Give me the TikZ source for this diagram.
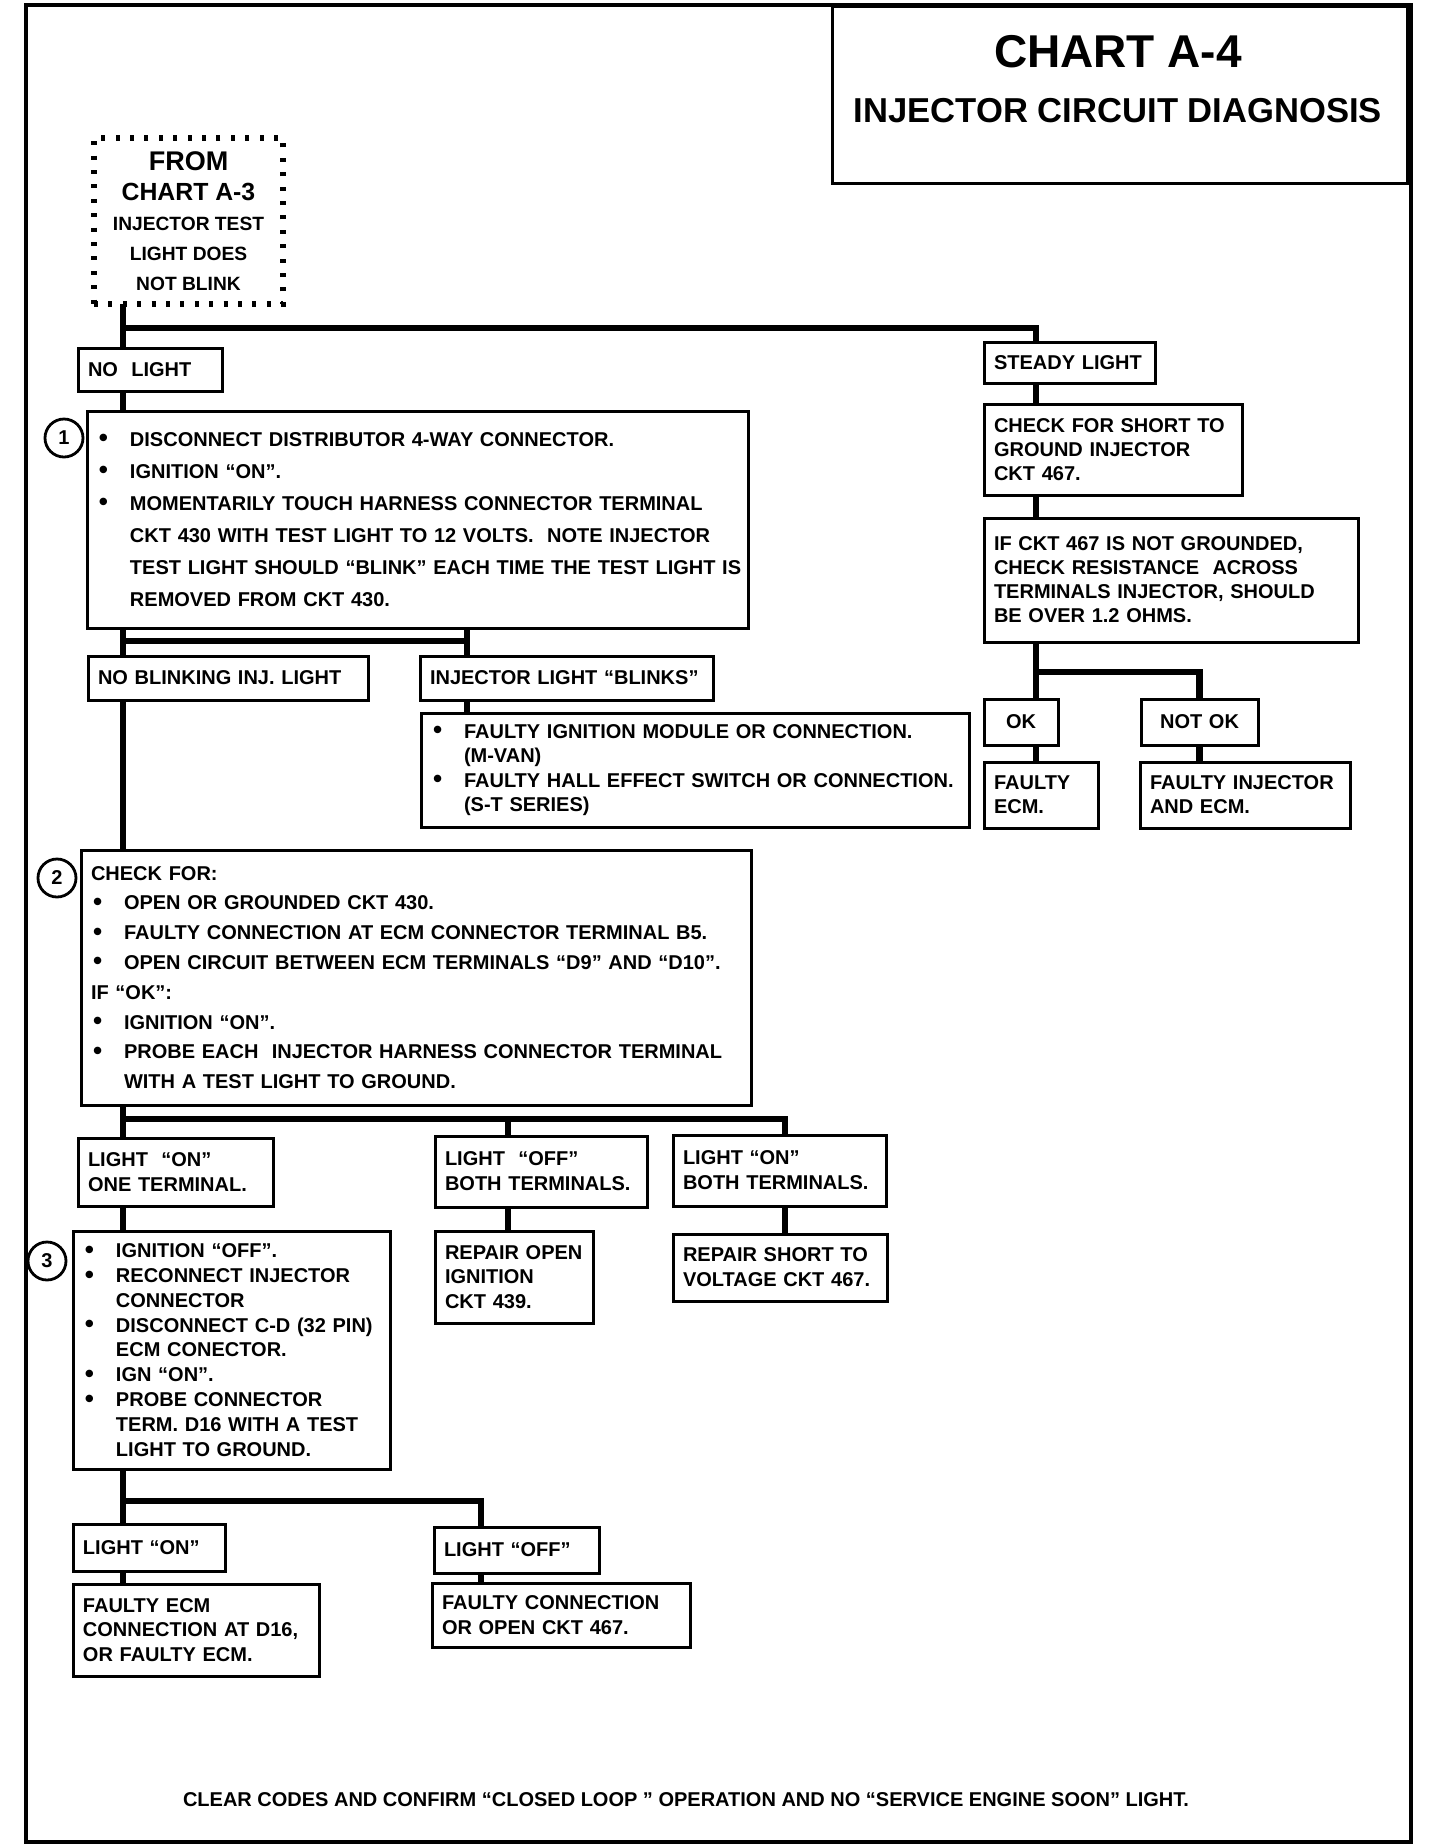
\documentclass[tikz,border=0pt]{standalone}
\usepackage{fontspec}
\setmainfont{Liberation Sans}
\usetikzlibrary{positioning}

\newcommand{\boxfont}{\bfseries\fontsize{10}{12.4}\selectfont}
\newcommand{\bulitem}{\makebox[16.5pt][l]{\hspace{1pt}\raisebox{-0.25pt}{\fontsize{13}{12}\selectfont\textbullet}}}
\newcommand{\bulind}{\hspace*{16.5pt}}

\begin{document}
\begin{tikzpicture}[x=0.5pt, y=-0.5pt]
    % Styles
    \tikzstyle{box} = [rectangle, draw, line width=1.5pt, anchor=north west, outer sep=0pt,
        inner xsep=5pt, inner ysep=0pt, align=left, font=\boxfont]
    \tikzstyle{cbox} = [box, align=center]
    \tikzstyle{dotbox} = [rectangle, draw, line width=2.6pt, dash pattern=on 2pt off 5.2pt,
        anchor=north west, outer sep=0pt, align=center, inner sep=0pt,
        font=\bfseries\fontsize{9.6}{15}\selectfont]
    \tikzstyle{num} = [circle, draw, line width=1.4pt, minimum size=19pt, inner sep=0pt,
        font=\bfseries\fontsize{10}{12}\selectfont]
    \tikzstyle{link} = [line width=3.3pt]
    \tikzstyle{frame} = [line width=1.8pt]

    \useasboundingbox (0,0) rectangle (1440,1848);
    \draw[frame] (26,5) rectangle (1411,1842);

    % Title
    \node[box, minimum width=287.5pt, minimum height=88.5pt] (chart) at (832,6) {};
    \node[font=\bfseries\fontsize{23}{26}\selectfont] (charttitle) at (1118,52) {CHART A-4};
    \node[font=\bfseries\fontsize{17.3}{20}\selectfont] (chartsub) at (1118,111) {INJECTOR CIRCUIT DIAGNOSIS};

    % Spines and split bars
    \coordinate (lspine) at (123,0);
    \coordinate (rspine) at (1036,0);
    \coordinate (blinkx) at (467,0);
    \coordinate (offx) at (508,0);
    \coordinate (onbothx) at (785,0);
    \coordinate (offtwox) at (481,0);
    \coordinate (bartop) at (0,328);
    \coordinate (barone) at (0,641);
    \coordinate (barok) at (0,672);
    \coordinate (bartwo) at (0,1119);
    \coordinate (barthree) at (0,1501);

    % Start box
    \node[dotbox, minimum width=94.5pt, minimum height=83pt] (from) at (94,138)
        {{\fontsize{13.5}{15}\selectfont FROM}\\{\fontsize{12.4}{15}\selectfont CHART A-3}\\INJECTOR TEST\\LIGHT DOES\\NOT BLINK};

    % Steady light branch (right column)
    \node[box, text width=75.5pt, minimum height=20.5pt] (steady) at (984,342) {STEADY LIGHT};
    \node[box, text width=119pt, minimum height=45.5pt, font=\bfseries\fontsize{10}{12}\selectfont] (chkshort) at (984,404)
        {CHECK FOR SHORT TO\\GROUND INJECTOR\\CKT 467.};
    \node[box, text width=177pt, minimum height=62pt, font=\bfseries\fontsize{10}{12}\selectfont] (ifckt) at (984,518)
        {IF CKT 467 IS NOT GROUNDED,\\CHECK RESISTANCE~ ACROSS\\TERMINALS INJECTOR, SHOULD\\BE OVER 1.2 OHMS.};
    \node[cbox, text width=27pt, minimum height=23pt] (ok) at (984,699) {OK};
    \node[cbox, text width=48.5pt, minimum height=23pt] (notok) at (1141,699) {NOT OK};
    \node[box, text width=47pt, minimum height=33pt, font=\bfseries\fontsize{10}{12}\selectfont] (faultyecm) at (984,762)
        {FAULTY\\ECM.};
    \node[box, text width=95pt, minimum height=33pt, font=\bfseries\fontsize{10}{12}\selectfont] (faultyinj) at (1140,762)
        {FAULTY INJECTOR\\AND ECM.};

    % No light branch, step 1
    \node[box, text width=62pt, minimum height=21.5pt] (nolight) at (78,348) {NO~ LIGHT};
    \node[box, text width=320.5pt, minimum height=108.5pt, font=\bfseries\fontsize{10}{16}\selectfont] (stepone) at (87,411)
        {\bulitem DISCONNECT DISTRIBUTOR 4-WAY CONNECTOR.\\
         \bulitem IGNITION “ON”.\\
         \bulitem MOMENTARILY TOUCH HARNESS CONNECTOR TERMINAL\\
         \bulind CKT 430 WITH TEST LIGHT TO 12 VOLTS.~ NOTE INJECTOR\\
         \bulind\mbox{TEST LIGHT SHOULD “BLINK” EACH TIME THE TEST LIGHT IS}\\
         \bulind REMOVED FROM CKT 430.};
    \node[num] (numone) at (64,438) {1};
    \node[box, text width=130pt, minimum height=22pt] (noblink) at (88,656) {NO BLINKING INJ. LIGHT};
    \node[box, text width=136.5pt, minimum height=22pt] (blinks) at (420,656) {INJECTOR LIGHT “BLINKS”};
    \node[box, text width=264pt, minimum height=57pt, font=\bfseries\fontsize{10}{12.2}\selectfont] (faultyign) at (421,713)
        {\bulitem FAULTY IGNITION MODULE OR CONNECTION.\\
         \bulind (M-VAN)\\
         \bulitem FAULTY HALL EFFECT SWITCH OR CONNECTION.\\
         \bulind (S-T SERIES)};

    % Step 2
    \node[box, text width=325pt, minimum height=127.5pt, font=\bfseries\fontsize{10}{14.9}\selectfont] (steptwo) at (81,850)
        {CHECK FOR:\\
         \bulitem OPEN OR GROUNDED CKT 430.\\
         \bulitem FAULTY CONNECTION AT ECM CONNECTOR TERMINAL B5.\\
         \bulitem OPEN CIRCUIT BETWEEN ECM TERMINALS “D9” AND “D10”.\\
         IF “OK”:\\
         \bulitem IGNITION “ON”.\\
         \bulitem PROBE EACH~ INJECTOR HARNESS CONNECTOR TERMINAL\\
         \bulind WITH A TEST LIGHT TO GROUND.};
    \node[num] (numtwo) at (57,878) {2};
    \node[box, text width=87.5pt, minimum height=34pt, font=\bfseries\fontsize{10}{12.5}\selectfont] (onone) at (78,1138)
        {LIGHT~ “ON”\\ONE TERMINAL.};
    \node[box, text width=96pt, minimum height=35.5pt, font=\bfseries\fontsize{10}{12.5}\selectfont] (offboth) at (435,1136)
        {LIGHT~ “OFF”\\BOTH TERMINALS.};
    \node[box, text width=96.5pt, minimum height=35.5pt, font=\bfseries\fontsize{10}{12.5}\selectfont] (onboth) at (673,1135)
        {LIGHT “ON”\\BOTH TERMINALS.};
    \node[box, text width=69pt, minimum height=46pt] (repopen) at (435,1231)
        {REPAIR~OPEN\\IGNITION\\CKT 439.};
    \node[box, text width=97pt, minimum height=33.5pt, font=\bfseries\fontsize{10}{12.5}\selectfont] (repshort) at (673,1234)
        {REPAIR SHORT TO\\VOLTAGE CKT 467.};

    % Step 3
    \node[box, text width=148.5pt, minimum height=119pt] (stepthree) at (73,1231)
        {\bulitem IGNITION “OFF”.\\
         \bulitem RECONNECT INJECTOR\\
         \bulind CONNECTOR\\
         \bulitem DISCONNECT C-D (32 PIN)\\
         \bulind ECM CONECTOR.\\
         \bulitem IGN “ON”.\\
         \bulitem PROBE CONNECTOR\\
         \bulind TERM. D16 WITH A TEST\\
         \bulind LIGHT TO GROUND.};
    \node[num] (numthree) at (47,1261) {3};
    \node[box, text width=66pt, minimum height=23.5pt] (lighton) at (73,1524) {LIGHT “ON”};
    \node[box, text width=72.5pt, minimum height=23pt] (lightoff) at (434,1527) {LIGHT “OFF”};
    \node[box, text width=113pt, minimum height=46pt] (faultyecmd) at (73,1584)
        {FAULTY ECM\\CONNECTION AT D16,\\OR FAULTY ECM.};
    \node[box, text width=119pt, minimum height=32pt] (faultyconn) at (432,1583)
        {FAULTY CONNECTION\\OR OPEN CKT 467.};

    % Footer
    \node[font=\bfseries\fontsize{10}{12}\selectfont] (footer) at (686,1800)
        {CLEAR CODES AND CONFIRM “CLOSED LOOP ” OPERATION AND NO “SERVICE ENGINE SOON” LIGHT.};

    % Top split
    \draw[link] (lspine |- from.south) -- (lspine |- nolight.north);
    \draw[link] (lspine |- bartop) -| (rspine |- steady.north);

    % Right column links
    \draw[link] (rspine |- steady.south) -- (rspine |- chkshort.north);
    \draw[link] (rspine |- chkshort.south) -- (rspine |- ifckt.north);
    \draw[link] (rspine |- ifckt.south) -- (rspine |- ok.north);
    \draw[link] (rspine |- barok) -| (notok.north);
    \draw[link] (rspine |- ok.south) -- (rspine |- faultyecm.north);
    \draw[link] (notok.south) -- (notok.south |- faultyinj.north);

    % Step 1 links
    \draw[link] (lspine |- nolight.south) -- (lspine |- stepone.north);
    \draw[link] (lspine |- stepone.south) -- (lspine |- noblink.north);
    \draw[link] (blinkx |- stepone.south) -- (blinkx |- blinks.north);
    \draw[link] (lspine |- barone) -- (blinkx |- barone);
    \draw[link] (blinkx |- blinks.south) -- (blinkx |- faultyign.north);

    % Step 2 links
    \draw[link] (lspine |- noblink.south) -- (lspine |- steptwo.north);
    \draw[link] (lspine |- steptwo.south) -- (lspine |- onone.north);
    \draw[link] (lspine |- bartwo) -| (onbothx |- onboth.north);
    \draw[link] (offx |- bartwo) -- (offx |- offboth.north);
    \draw[link] (offx |- offboth.south) -- (offx |- repopen.north);
    \draw[link] (onbothx |- onboth.south) -- (onbothx |- repshort.north);
    \draw[link] (lspine |- onone.south) -- (lspine |- stepthree.north);

    % Step 3 links
    \draw[link] (lspine |- stepthree.south) -- (lspine |- lighton.north);
    \draw[link] (lspine |- barthree) -| (offtwox |- lightoff.north);
    \draw[link] (lspine |- lighton.south) -- (lspine |- faultyecmd.north);
    \draw[link] (offtwox |- lightoff.south) -- (offtwox |- faultyconn.north);
\end{tikzpicture}
\end{document}
